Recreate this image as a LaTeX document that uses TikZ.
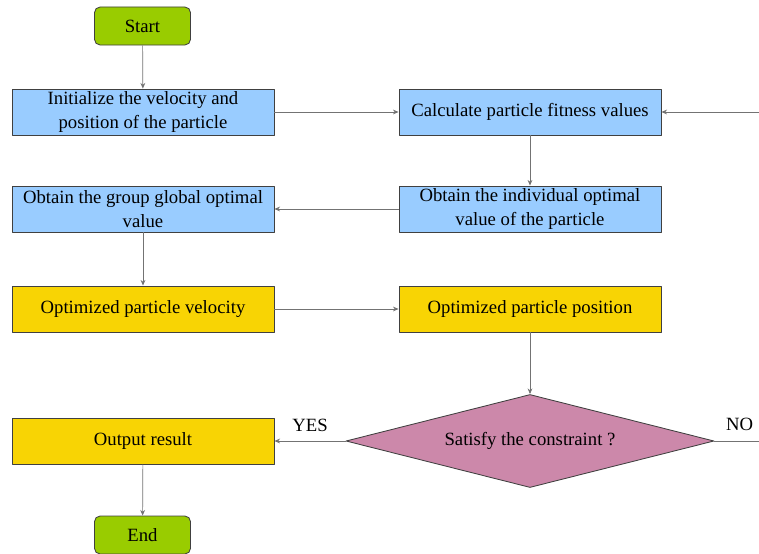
\documentclass[tikz,border=0pt]{standalone}
\usepackage{fontspec}
\setmainfont{Liberation Serif}
\usetikzlibrary{arrows.meta,shapes.geometric,positioning}
\definecolor{termgreen}{HTML}{99CC00}
\definecolor{stepblue}{HTML}{99CCFF}
\definecolor{optyellow}{HTML}{F8D404}
\definecolor{checkpink}{HTML}{CC88AA}

\begin{document}
\begin{tikzpicture}[
  x=0.025cm, y=-0.025cm,
  >={Stealth[length=4pt,width=3.4pt]}, line join=round,
  every node/.style={font=\fontsize{13.3}{16.5}\selectfont},
  terminal/.style={draw=black!75, line width=0.6pt, fill=termgreen,
    rounded corners=4pt, minimum width=2.4cm, minimum height=0.95cm, inner sep=0pt},
  stepbox/.style={draw=black!75, line width=0.6pt, fill=stepblue,
    minimum width=6.55cm, minimum height=1.15cm, inner sep=0pt, align=center},
  optbox/.style={stepbox, fill=optyellow},
  decision/.style={diamond, draw=black!75, line width=0.6pt, fill=checkpink,
    aspect=4, minimum width=9.2cm, minimum height=2.325cm, inner sep=0pt},
  flow/.style={->, draw=black!55, line width=0.5pt}
]
\useasboundingbox (0,0) rectangle (759,554);

% --- Nodes --------------------------------------------------------------
\node[terminal] (start) at (142.5,26) {Start};
\node[stepbox] (init)  at (143,112) {Initialize the velocity and\\position of the particle};
\node[stepbox] (calc)  at (530,112) {Calculate particle fitness values};
\node[stepbox] (indiv) at (530,209) {Obtain the individual optimal\\value of the particle};
\node[stepbox] (group) at (143,209) {Obtain the group global optimal\\value};
\node[optbox]  (vel)   at (143,309) {Optimized particle velocity};
\node[optbox]  (pos)   at (530,309) {Optimized particle position};
\node[decision] (check) at (530,441) {Satisfy the constraint ?};
\node[optbox]  (out)   at (143,441) {Output result};
\node[terminal] (stop) at (142.5,535) {End};

% loop back from the NO branch, leaving the picture on the right
\coordinate (noend) at (760,441);
\coordinate (loopin) at (760,112);

% --- Connectors ---------------------------------------------------------
\draw[flow] (start) -- (init);
\draw[flow] (init) -- (calc);
\draw[flow] (calc) -- (indiv);
\draw[flow] (indiv) -- (group);
\draw[flow] (group) -- (vel);
\draw[flow] (vel) -- (pos);
\draw[flow] (pos) -- (check);
\draw[flow] (check) -- node[above=3pt] {YES} (out);
\draw[draw=black!55, line width=0.5pt] (check.east) -- node[pos=0.55, above=4pt] {NO} (noend);
\draw[flow] (loopin) -- (calc);
\draw[flow] (out) -- (stop);

\end{tikzpicture}
\end{document}
